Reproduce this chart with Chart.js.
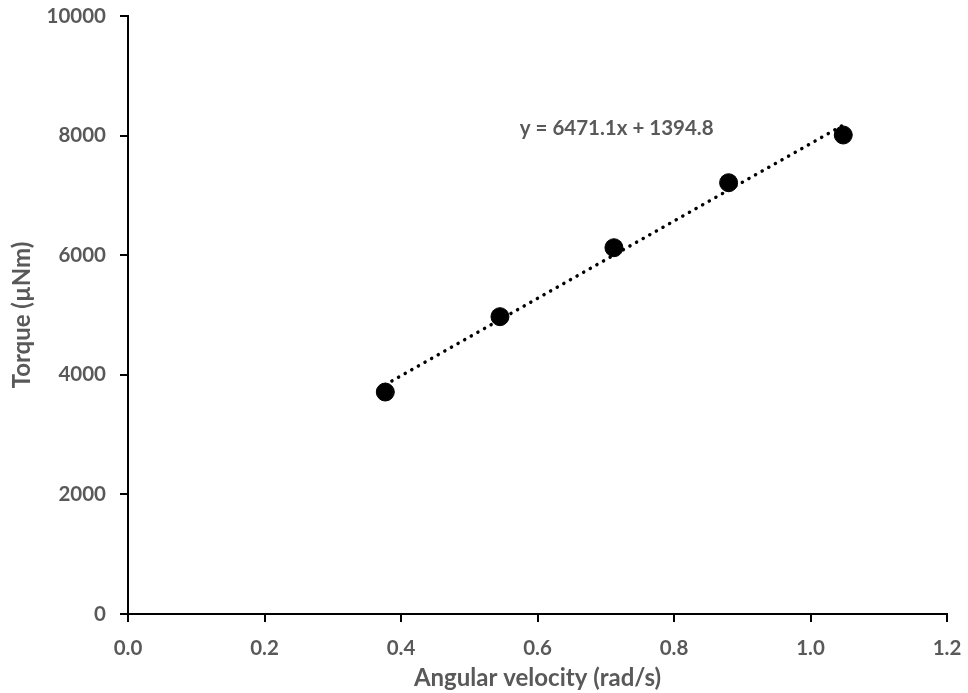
<!DOCTYPE html>
<html>
<head>
<meta charset="utf-8">
<script src="https://cdn.jsdelivr.net/npm/chart.js@4/dist/chart.umd.min.js"></script>
<style>
  html, body { margin: 0; padding: 0; background: #fff; }
  #wrap { width: 968px; height: 693px; }
</style>
</head>
<body>
<div id="wrap"><canvas id="c" width="968" height="693"></canvas></div>
<script>
// Data
const angularVelocity = [0.377, 0.545, 0.712, 0.880, 1.048];
const torque = [3712, 4972, 6125, 7212, 8010];
const trendSlope = 6471.1;
const trendIntercept = 1394.8;
const trendLabel = 'y = 6471.1x + 1394.8';
const trendLabelAt = { x: 0.716, y: 8127 };
const xTicks = [0, 0.2, 0.4, 0.6, 0.8, 1.0, 1.2];
const yTicks = [0, 2000, 4000, 6000, 8000, 10000];
const xTitle = 'Angular velocity (rad/s)';
const yTitle = 'Torque (\u00b5Nm)';

const xMin = Math.min(...angularVelocity), xMax = Math.max(...angularVelocity);
const trendData = [
  { x: xMin, y: trendSlope * xMin + trendIntercept },
  { x: xMax, y: trendSlope * xMax + trendIntercept }
];
const points = angularVelocity.map((v, i) => ({ x: v, y: torque[i] }));

const FONT = 'Lato, Carlito, Calibri, "Open Sans", sans-serif';
const GREY = '#595959';

const labelPlugin = {
  id: 'trendLabel',
  afterDatasetsDraw(chart) {
    const { ctx, scales } = chart;
    const px = scales.x.getPixelForValue(trendLabelAt.x);
    const py = scales.y.getPixelForValue(trendLabelAt.y);
    ctx.save();
    ctx.font = 'bold 20.5px ' + FONT;
    ctx.fillStyle = GREY;
    ctx.textAlign = 'center';
    ctx.textBaseline = 'middle';
    ctx.fillText(trendLabel, px, py);
    ctx.restore();
  }
};

new Chart(document.getElementById('c'), {
  type: 'scatter',
  data: {
    datasets: [
      {
        label: 'Torque',
        data: points,
        backgroundColor: '#000',
        borderColor: '#000',
        pointRadius: 9,
        pointHoverRadius: 9,
        order: 2
      },
      {
        label: 'Trend',
        type: 'line',
        data: trendData,
        borderColor: '#000',
        borderWidth: 3.5,
        borderDash: [0.1, 7.5],
        borderCapStyle: 'round',
        pointRadius: 0,
        fill: false,
        order: 1
      }
    ]
  },
  options: {
    responsive: false,
    animation: false,
    layout: { padding: { top: 16, right: 21, left: 0, bottom: 0 } },
    plugins: {
      legend: { display: false },
      tooltip: { enabled: false }
    },
    scales: {
      x: {
        type: 'linear',
        min: 0, max: 1.2,
        afterBuildTicks(scale) { scale.ticks = xTicks.map(v => ({ value: v })); },
        afterFit(scale) { scale.height = 79; scale.paddingLeft = 0; scale.paddingRight = 0; },
        border: { color: '#000', width: 2 },
        grid: { drawOnChartArea: false, drawTicks: true, tickLength: 8, color: '#000', lineWidth: 2 },
        ticks: {
          color: GREY,
          font: { family: FONT, size: 20.5, weight: 'bold' },
          padding: 14,
          callback: v => Number(v).toFixed(1)
        },
        title: {
          display: true,
          text: xTitle,
          color: GREY,
          font: { family: FONT, size: 24, weight: 'bold' },
          padding: { top: 2, bottom: 0 }
        }
      },
      y: {
        type: 'linear',
        min: 0, max: 10000,
        afterBuildTicks(scale) { scale.ticks = yTicks.map(v => ({ value: v })); },
        afterFit(scale) { scale.width = 128; scale.paddingTop = 0; scale.paddingBottom = 0; },
        border: { color: '#000', width: 2 },
        grid: { drawOnChartArea: false, drawTicks: true, tickLength: 8, color: '#000', lineWidth: 2 },
        ticks: {
          color: GREY,
          font: { family: FONT, size: 20.5, weight: 'bold' },
          padding: 14,
          callback: v => String(v)
        },
        title: {
          display: true,
          text: yTitle,
          color: GREY,
          font: { family: FONT, size: 24, weight: 'bold' },
          padding: { top: 8, bottom: 2 }
        }
      }
    }
  },
  plugins: [labelPlugin]
});
</script>
</body>
</html>
